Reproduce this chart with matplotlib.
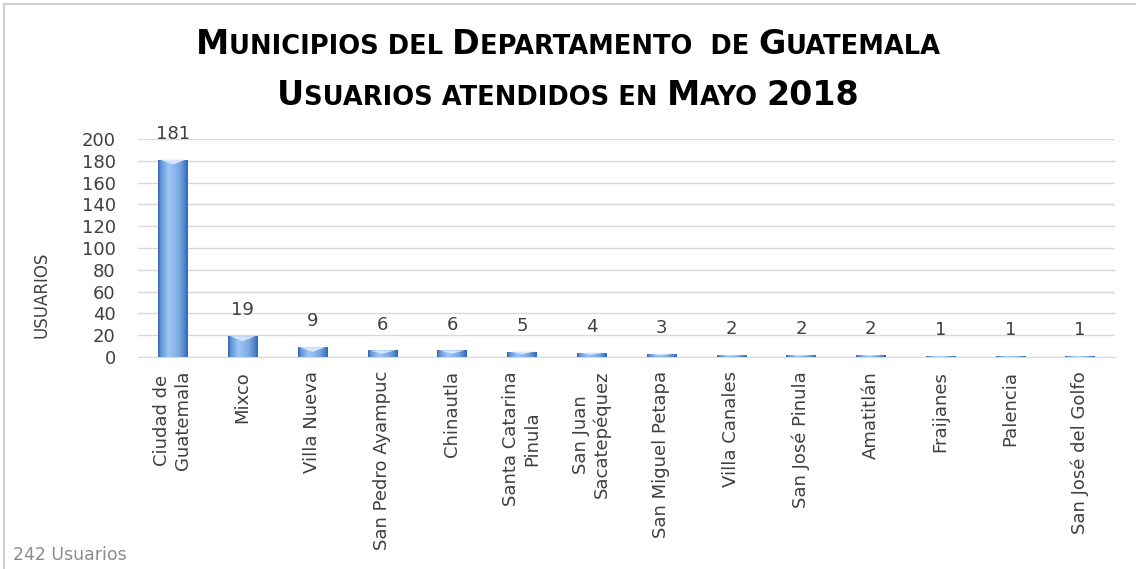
import matplotlib
matplotlib.use("Agg")
import matplotlib.pyplot as plt
import numpy as np
from matplotlib.lines import Line2D

categories = ["Ciudad de\nGuatemala", "Mixco", "Villa Nueva", "San Pedro Ayampuc",
              "Chinautla", "Santa Catarina\nPinula", "San Juan\nSacatepéquez",
              "San Miguel Petapa", "Villa Canales", "San José Pinula", "Amatitlán",
              "Fraijanes", "Palencia", "San José del Golfo"]
values = [181, 19, 9, 6, 6, 5, 4, 3, 2, 2, 2, 1, 1, 1]
yticks = [0, 20, 40, 60, 80, 100, 120, 140, 160, 180, 200]
title_lines = ["Municipios del Departamento  de Guatemala", "Usuarios atendidos en Mayo 2018"]
ylabel = "USUARIOS"
footnote = "242 Usuarios"

W, H = 1136, 569
fig = plt.figure(figsize=(W / 100, H / 100), dpi=100)
fig.patch.set_facecolor("white")

ax = fig.add_axes([138 / W, 1 - 357 / H, (1115 - 138) / W, (357 - 139) / H])
ax.set_xlim(-0.5, len(values) - 0.5)
ax.set_ylim(0, 200)
for s in ["top", "right", "left"]:
    ax.spines[s].set_visible(False)
ax.spines["bottom"].set_color("#d9d9d9")
ax.set_yticks(yticks)
ax.set_yticklabels([str(v) for v in yticks], fontsize=13, color="#404040")
ax.yaxis.grid(True, color="#d9d9d9", lw=1)
ax.set_axisbelow(True)
ax.tick_params(axis="y", length=0, pad=16)
x = np.arange(len(values))
ax.set_xticks(x)
ax.set_xticklabels(categories, rotation=90, fontsize=13, color="#404040",
                   va="top", ha="center", multialignment="center")
ax.tick_params(axis="x", length=0, pad=10)

bw = 0.42
bars = ax.bar(x, values, width=bw, color="#5b8fd6", zorder=2)
grad = np.linspace(0, 1, 64)
prof = np.interp(grad, [0, 0.08, 0.35, 0.7, 0.92, 1.0], [0.0, 0.45, 1.0, 0.7, 0.25, 0.0])
dark = np.array([0.18, 0.40, 0.70])
light = np.array([0.62, 0.78, 0.97])
img = dark[None, :] + prof[:, None] * (light - dark)[None, :]
img = img[None, :, :]
for b, v in zip(bars, values):
    x0 = b.get_x()
    im = ax.imshow(img, extent=[x0, x0 + bw, 0, v], aspect="auto", zorder=3, interpolation="bilinear")
    im.set_clip_path(b)
    cap = min(v * 0.5, 4.5)
    ax.fill([x0 + 0.03, x0 + bw - 0.03, x0 + bw / 2], [v, v, v - cap], color="#d6e6fa", zorder=4, lw=0)
    ax.text(b.get_x() + bw / 2, v + 15.5, str(v), ha="center", va="bottom", fontsize=13, color="#404040")
ax.set_xlim(-0.5, len(values) - 0.5)
ax.set_ylim(0, 200)

fig.text(42 / W, 1 - 295 / H, ylabel, rotation=90, ha="center", va="center", fontsize=12, color="#404040")
fig.text(13 / W, 1 - 555 / H, footnote, ha="left", va="center", fontsize=12.5, color="#8c8c8c")

fig.add_artist(Line2D([4 / W, 1], [1 - 4 / H, 1 - 4 / H], color="#d0d0d0", lw=1.5, transform=fig.transFigure))
fig.add_artist(Line2D([4 / W, 4 / W], [0, 1 - 4 / H], color="#d0d0d0", lw=1.5, transform=fig.transFigure))

renderer = fig.canvas.get_renderer()
fam = ["DejaVu Sans"]
big, small = 24, 18.5

def smallcaps(text, ycen):
    runs = []
    for ch in text:
        sz = big if (ch.isupper() or ch.isdigit()) else small
        if runs and runs[-1][1] == sz:
            runs[-1][0] += ch.upper()
        else:
            runs.append([ch.upper(), sz])
    arts = []
    xpos = 0.0
    for t, sz in runs:
        a = fig.text(0, ycen, t, fontsize=sz, fontweight="bold", family=fam,
                     ha="left", va="baseline", color="black")
        a.set_transform(matplotlib.transforms.IdentityTransform())
        a.set_position((xpos, ycen))
        w = a.get_window_extent(renderer).width
        arts.append(a)
        xpos += w
    start = (W - xpos) / 2
    for a in arts:
        px, py = a.get_position()
        a.set_position((px + start, py))

smallcaps(title_lines[0], H - 54)
smallcaps(title_lines[1], H - 105)

fig.savefig("out.png", dpi=100)
